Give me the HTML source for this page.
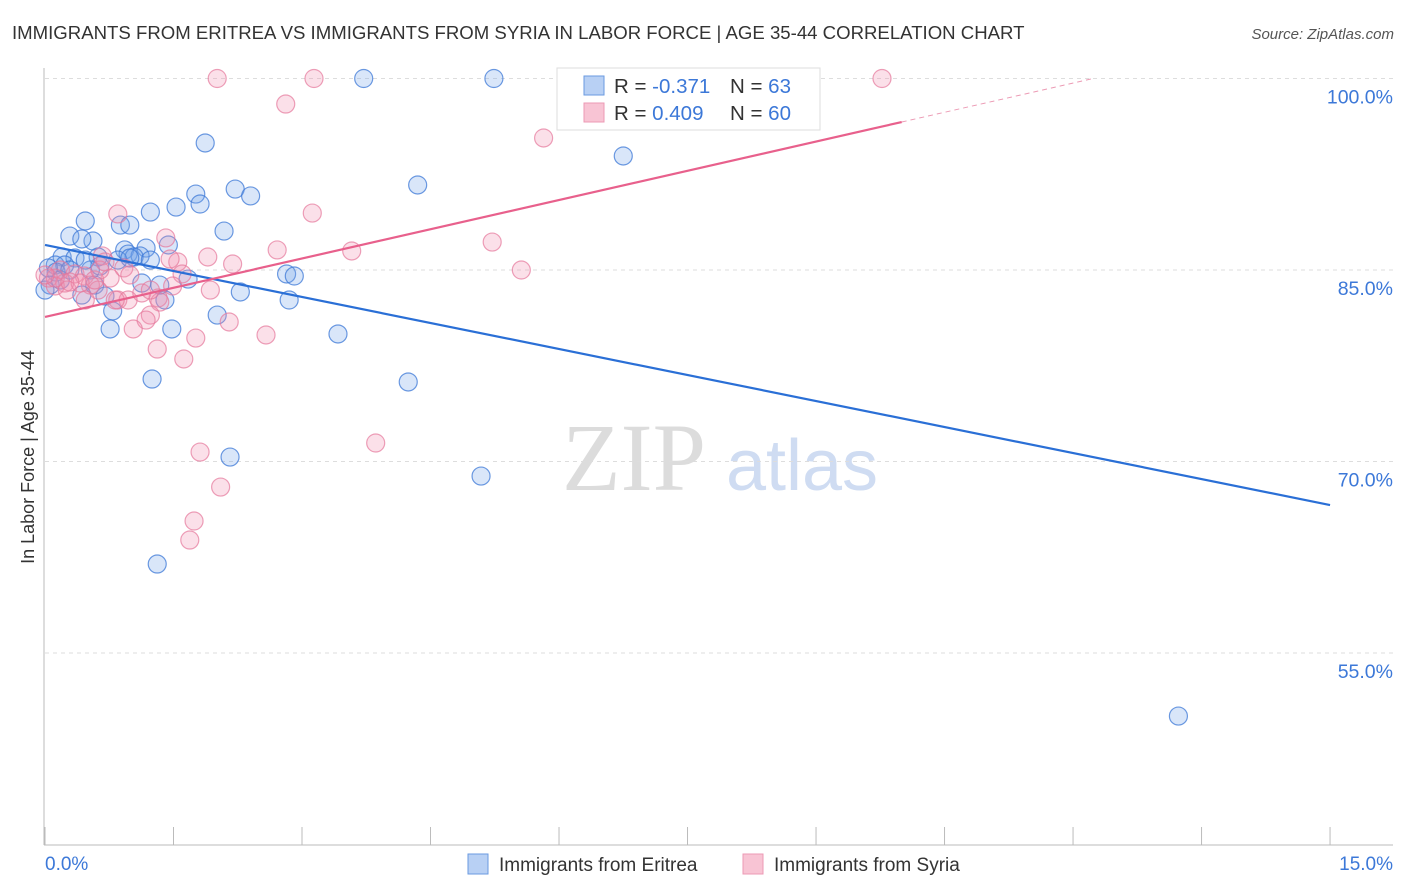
<!DOCTYPE html>
<html><head><meta charset="utf-8">
<style>
body{margin:0;background:#fff;font-family:"Liberation Sans",sans-serif;}
svg{display:block}
</style></head>
<body>
<svg id="chart" width="1406" height="892" xmlns="http://www.w3.org/2000/svg" font-family="Liberation Sans, sans-serif">
<text x="12" y="39" font-size="18.6" fill="#333">IMMIGRANTS FROM ERITREA VS IMMIGRANTS FROM SYRIA IN LABOR FORCE | AGE 35-44 CORRELATION CHART</text>
<text x="1394" y="39" font-size="15" fill="#555" font-style="italic" text-anchor="end">Source: ZipAtlas.com</text>
<g>
<text x="634" y="490" font-size="96" font-family="Liberation Serif, serif" fill="#dcdcdc" text-anchor="middle">ZIP</text>
<text x="802" y="490" font-size="72" fill="#cfdcf2" text-anchor="middle">atlas</text>
</g>
<g id="grid"></g>
<g id="axes"></g>
<g id="marks"></g>
<g id="trends"></g>
<text transform="translate(34,457) rotate(-90)" font-size="18" fill="#333" text-anchor="middle">In Labor Force | Age 35-44</text>
<g>
<rect x="557" y="68" width="263" height="62" fill="#fff" stroke="#ddd"/>
<rect x="584" y="76" width="20" height="19" fill="#b8d0f4" stroke="#6a9ae0"/>
<rect x="584" y="103" width="20" height="19" fill="#f8c4d4" stroke="#ec9ab4"/>
<text x="614" y="93" font-size="20.5" fill="#333">R = <tspan fill="#3c78d8">-0.371</tspan></text>
<text x="730" y="93" font-size="20.5" fill="#333">N = <tspan fill="#3c78d8">63</tspan></text>
<text x="614" y="120" font-size="20.5" fill="#333">R = <tspan fill="#3c78d8"> 0.409</tspan></text>
<text x="730" y="120" font-size="20.5" fill="#333">N = <tspan fill="#3c78d8">60</tspan></text>
</g>
<g>
<rect x="468" y="854" width="20" height="20" fill="#b8d0f4" stroke="#6a9ae0"/>
<text x="499" y="871" font-size="19" fill="#333">Immigrants from Eritrea</text>
<rect x="743" y="854" width="20" height="20" fill="#f8c4d4" stroke="#ec9ab4"/>
<text x="774" y="871" font-size="19" fill="#333">Immigrants from Syria</text>
</g>
</svg>
<script>
const eritreaX=[3.72,5.24,1.87,6.75,4.35,1.76,2.22,2.40,1.81,1.53,1.23,0.47,0.88,0.99,2.09,0.29,0.56,0.43,1.44,1.18,0.93,0.97,1.11,1.04,0.20,0.35,0.62,0.85,0.12,0.23,0.04,0.13,0.53,2.82,2.91,1.13,1.67,0.58,0.06,2.28,0.70,0.43,1.40,2.85,0.79,2.01,0.76,1.48,3.42,1.25,4.24,2.16,5.09,1.31,13.23,0.0,0.18,0.29,0.64,0.99,1.23,0.47,1.34];
const eritreaY=[100,100,94.95,93.93,91.66,90.95,91.34,90.80,90.17,89.93,89.54,88.84,88.52,88.52,88.05,87.66,87.27,87.43,86.96,86.72,86.57,86.25,86.10,86.02,86.02,85.94,86.02,85.78,85.39,85.39,85.16,84.84,85.00,84.69,84.53,83.98,84.29,83.82,83.82,83.28,82.96,83.04,82.65,82.65,81.79,81.47,80.38,80.38,79.99,76.46,76.23,70.35,68.86,61.97,50.06,83.43,84.22,85.0,85.31,85.94,85.78,85.78,83.82];
const syriaX=[2.01,3.14,9.77,2.81,5.82,0.85,3.12,5.22,1.41,2.71,3.58,1.90,2.19,1.55,1.46,5.56,0.67,0.92,0.18,0.35,0.46,0.76,1.60,0.04,0.23,0.53,0.12,0.26,0.62,0.85,0.97,1.13,1.32,1.93,1.49,1.34,1.23,1.18,2.15,1.03,2.58,1.76,1.31,1.62,3.86,1.81,2.05,1.74,1.69,0.12,0.41,0.58,0.64,0.82,0.99,0.29,0.0,1.23,0.70,0.47];
const syriaY=[100,100,100,98.0,95.34,89.39,89.46,87.19,87.51,86.57,86.49,86.02,85.47,85.63,85.86,85.0,86.10,85.16,85.0,84.69,84.53,84.37,84.69,84.37,83.98,83.82,83.75,83.43,83.43,82.65,82.65,83.20,82.81,83.43,83.75,82.49,81.47,81.08,80.93,80.38,79.91,79.67,78.81,78.03,71.45,70.74,68.0,65.34,63.85,84.37,83.98,84.22,85.0,82.65,84.61,84.06,84.61,83.43,85.63,82.65];
const yTicks=[100,85,70,55];
const yTickLabels=["100.0%","85.0%","70.0%","55.0%"];
const xTicks=[0,1.5,3,4.5,6,7.5,9,10.5,12,13.5,15];
const eritreaTrend=[86.96,66.59]; // y at x=0 and x=15
const syriaTrend=[81.32,96.59];   // y at x=0 and x=10
const NS="http://www.w3.org/2000/svg";
const xs=v=>45+v*85.67;
const ys=v=>78.5+(100-v)*12.767;
function mk(t,a,p){const e=document.createElementNS(NS,t);for(const k in a)e.setAttribute(k,a[k]);p.appendChild(e);return e;}
const grid=document.getElementById('grid'),axes=document.getElementById('axes'),marks=document.getElementById('marks'),trends=document.getElementById('trends');
yTicks.forEach((t,i)=>{
 const l=mk('line',{x1:45,x2:1393,y1:ys(t),y2:ys(t),stroke:'#ddd','stroke-dasharray':'4,4'},grid);
 
 
 const tx=mk('text',{x:1393,y:ys(t)+25,'font-size':19.5,fill:'#3c78d8','text-anchor':'end'},axes);
 tx.textContent=yTickLabels[i];
 
 
});
let a=mk('line',{x1:44,x2:44,y1:68,y2:845,stroke:'#bbb'},axes);


a=mk('line',{x1:44,x2:1393,y1:845,y2:845,stroke:'#bbb'},axes);


xTicks.forEach(t=>{
 const l=mk('line',{x1:xs(t),x2:xs(t),y1:827,y2:845,stroke:'#bbb'},axes);
 
 
});
let xl=mk('text',{x:45,y:870,'font-size':19,fill:'#3c78d8'},axes);xl.textContent="0.0%";


xl=mk('text',{x:1393,y:870,'font-size':19,fill:'#3c78d8','text-anchor':'end'},axes);xl.textContent="15.0%";


eritreaX.forEach((x,i)=>{
 const c=mk('circle',{cx:xs(x),cy:ys(eritreaY[i]),r:9,fill:'rgba(120,165,235,0.28)',stroke:'rgba(60,120,215,0.75)','stroke-width':1.2},marks);
 
 
});
syriaX.forEach((x,i)=>{
 const c=mk('circle',{cx:xs(x),cy:ys(syriaY[i]),r:9,fill:'rgba(240,145,175,0.28)',stroke:'rgba(230,120,155,0.7)','stroke-width':1.2},marks);
 
 
});
let t=mk('line',{x1:xs(0),y1:ys(eritreaTrend[0]),x2:xs(15),y2:ys(eritreaTrend[1]),stroke:'#2a6fd6','stroke-width':2.2},trends);


t=mk('line',{x1:xs(0),y1:ys(syriaTrend[0]),x2:xs(10),y2:ys(syriaTrend[1]),stroke:'#e8608c','stroke-width':2.2},trends);


const slope=(syriaTrend[1]-syriaTrend[0])/10, xe=(100-syriaTrend[0])/slope;
t=mk('line',{x1:xs(10),y1:ys(syriaTrend[1]),x2:xs(xe),y2:ys(100),stroke:'#ec9ab4','stroke-width':1,'stroke-dasharray':'5,4'},trends);


</script>
</body></html>
